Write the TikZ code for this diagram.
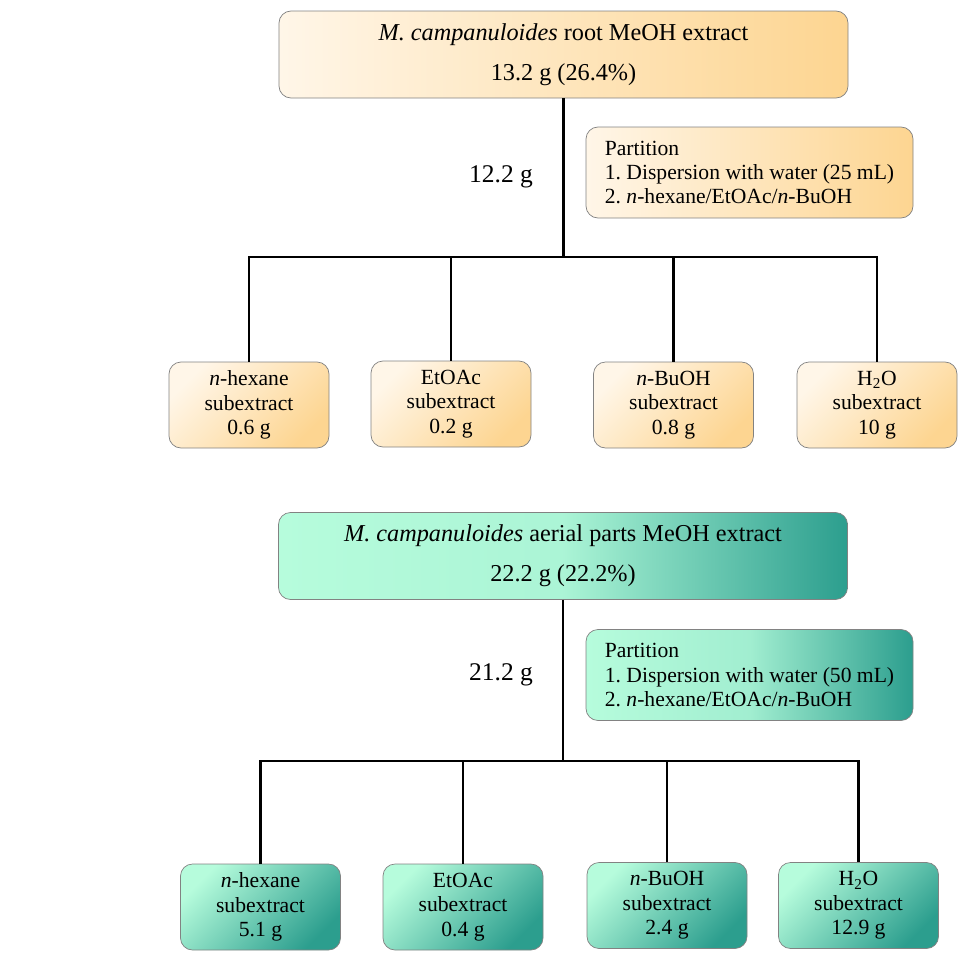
\documentclass[tikz,border=0pt]{standalone}
\usepackage{fontspec}
\setmainfont{Liberation Serif}
\usetikzlibrary{positioning}
\definecolor{rootlight}{RGB}{255,246,232}
\definecolor{rootdark}{RGB}{253,213,145}
\definecolor{aeriallight}{RGB}{182,252,220}
\definecolor{aerialdark}{RGB}{44,158,142}
\definecolor{boxgray}{RGB}{130,130,130}

\begin{document}
\begin{tikzpicture}[
    x=0.2mm, y=-0.2mm,
    extract/.style={rectangle, draw=boxgray, rounded corners=0.24cm,
                    minimum width=11.38cm, minimum height=1.74cm, align=center,
                    font=\fontsize{13.8}{22.7}\selectfont},
    partbox/.style={rectangle, draw=boxgray, rounded corners=0.24cm,
                    minimum height=1.82cm, minimum width=6.54cm,
                    align=left, font=\fontsize{12.3}{13.7}\selectfont},
    subbox/.style={rectangle, draw=boxgray, rounded corners=0.24cm,
                   minimum width=3.2cm, minimum height=1.72cm, align=center,
                   font=\fontsize{12.3}{13.9}\selectfont,
                   top color=#1light, bottom color=#1dark, shading angle=45},
    amount/.style={font=\fontsize{14.5}{17}\selectfont},
    branch/.style={line width=1.4pt, black},
]
    \useasboundingbox (0,0) rectangle (978,958);

    % Root extract
    \node[extract, left color=rootlight, right color=rootdark] (root) at (563.5,54.5)
        {\textit{M. campanuloides} root MeOH extract\\13.2 g (26.4\%)};
    \node[partbox, left color=rootlight, right color=rootdark] (rootpart) at (749.5,172.5)
        {Partition\\1.\ Dispersion with water (25 mL)\\2.\ \textit{n}-hexane/EtOAc/\textit{n}-BuOH};
    \node[amount] (rootamt) at (501,177) {12.2 g};
    \coordinate (rootbar) at (563.5,257);

    \node[subbox=root] (rhex)   at (249,405)   {\textit{n}-hexane\\subextract\\0.6 g};
    \node[subbox=root] (retoac) at (451,404)   {EtOAc\\subextract\\0.2 g};
    \node[subbox=root] (rbuoh)  at (673.5,405) {\textit{n}-BuOH\\subextract\\0.8 g};
    \node[subbox=root] (rwater) at (877,405)   {H\textsubscript{2}O\\subextract\\10 g};

    \draw[branch] (root.south) -- (rootbar);
    \draw[branch] (rhex.north) |- (rootbar) -| (rwater.north);
    \draw[branch] (retoac.north) -- (retoac.north |- rootbar);
    \draw[branch] (rbuoh.north) -- (rbuoh.north |- rootbar);

    % Aerial parts extract
    \node[extract, left color=aeriallight, right color=aerialdark,
          middle color=aeriallight!92!aerialdark] (aerial) at (563,556)
        {\textit{M. campanuloides} aerial parts MeOH extract\\22.2 g (22.2\%)};
    \node[partbox, left color=aeriallight, right color=aerialdark,
          middle color=aeriallight!85!aerialdark] (aerialpart) at (749.5,675)
        {Partition\\1.\ Dispersion with water (50 mL)\\2.\ \textit{n}-hexane/EtOAc/\textit{n}-BuOH};
    \node[amount] (aerialamt) at (501,675) {21.2 g};
    \coordinate (aerialbar) at (563,761);

    \node[subbox=aerial] (ahex)   at (260.5,907) {\textit{n}-hexane\\subextract\\5.1 g};
    \node[subbox=aerial] (aetoac) at (463,907)   {EtOAc\\subextract\\0.4 g};
    \node[subbox=aerial] (abuoh)  at (667,905.5) {\textit{n}-BuOH\\subextract\\2.4 g};
    \node[subbox=aerial] (awater) at (858.5,905.5) {H\textsubscript{2}O\\subextract\\12.9 g};

    \draw[branch] (aerial.south) -- (aerialbar);
    \draw[branch] (ahex.north) |- (aerialbar) -| (awater.north);
    \draw[branch] (aetoac.north) -- (aetoac.north |- aerialbar);
    \draw[branch] (abuoh.north) -- (abuoh.north |- aerialbar);
\end{tikzpicture}
\end{document}
